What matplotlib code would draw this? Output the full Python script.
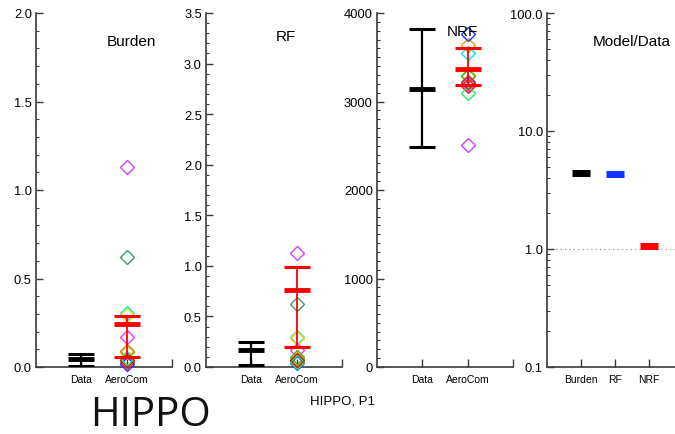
import matplotlib
matplotlib.use("Agg")
import matplotlib.pyplot as plt
from matplotlib.ticker import MultipleLocator, FixedLocator, LogLocator, NullFormatter

plt.rcParams['font.family'] = ['Liberation Sans', 'DejaVu Sans']

# ---------------- data ----------------
model_colors = ['#cc44ff', '#3c9a6a', '#00e5ff', '#ffd000', '#ff33ff', '#44aa22',
                '#ff9900', '#ff2222', '#2233ff', '#22ee66', '#aa3322']
burden_models = [1.13, 0.62, 0.307, 0.295, 0.17, 0.09, 0.085, 0.03, 0.015, 0.05, 0.04]
rf_models = [1.13, 0.62, 0.30, 0.29, 0.165, 0.10, 0.08, 0.06, 0.035, 0.05, 0.07]
nrf_models = [2510, 3200, 3550, 3300, 3200, 3290, 3640, 3180, 3760, 3100, 3215]

# data (mean, low, high) and AeroCom (mean, low, high)
burden_data = [0.045, 0.003, 0.075]
burden_aero = [0.242, 0.055, 0.288]
rf_data = [0.171, 0.02, 0.244]
rf_aero = [0.758, 0.198, 0.99]
nrf_data = [3140, 2490, 3815]
nrf_aero = [3365, 3185, 3600]

ratio_labels = ['Burden', 'RF', 'NRF']
ratio_values = [4.4, 4.3, 1.07]
ratio_colors = ['black', '#1133ff', '#ff0000']

x_labels = ['Data', 'AeroCom', '']

W, H = 675, 435
fig = plt.figure(figsize=(W / 100, H / 100), dpi=100)

def px_axes(left, right, top, bottom):
    return fig.add_axes([left / W, 1 - bottom / H, (right - left) / W, (bottom - top) / H])

spine_col = '#3a3a3a'

def style(ax):
    for s in ['top', 'right']:
        ax.spines[s].set_visible(False)
    for s in ['left', 'bottom']:
        ax.spines[s].set_color(spine_col)
        ax.spines[s].set_linewidth(1.2)
    ax.tick_params(axis='y', which='major', direction='in', length=5, width=1, color=spine_col,
                   labelsize=9.3, pad=3)
    ax.tick_params(axis='y', which='minor', direction='in', length=2.5, width=0.8, color=spine_col)
    ax.tick_params(axis='x', which='major', direction='in', length=6, width=1, color=spine_col,
                   labelsize=7.5, pad=5)
    ax.tick_params(axis='x', which='minor', length=0)

def draw_errbar(ax, x, vals, color, lw_v, lw_cap, lw_mean, hw=0.29):
    m, lo, hi = vals
    ax.plot([x, x], [lo, hi], color=color, lw=lw_v, zorder=4, solid_capstyle='butt')
    ax.plot([x - hw, x + hw], [lo, lo], color=color, lw=lw_cap, zorder=4, solid_capstyle='butt')
    ax.plot([x - hw, x + hw], [hi, hi], color=color, lw=lw_cap, zorder=4, solid_capstyle='butt')
    ax.plot([x - hw, x + hw], [m, m], color=color, lw=lw_mean, zorder=4, solid_capstyle='butt')

def value_panel(ax, models, dvals, avals, ymax, major, minor, title, tpos, fmt):
    style(ax)
    for v, c in zip(models, model_colors):
        ax.plot([2], [v], marker='D', ms=7, mfc='none', mec=c, mew=1.0, zorder=3, clip_on=False)
    draw_errbar(ax, 1, dvals, 'black', 1.6, 2.2, 3.5)
    draw_errbar(ax, 2, avals, '#ff0000', 1.3, 2.2, 3.5)
    ax.set_xlim(0, 3)
    ax.set_ylim(0, ymax)
    ax.xaxis.set_major_locator(FixedLocator([1, 2, 3]))
    ax.set_xticklabels(x_labels)
    ax.yaxis.set_major_locator(MultipleLocator(major))
    ax.yaxis.set_minor_locator(MultipleLocator(minor))
    ax.yaxis.set_major_formatter(plt.FuncFormatter(lambda v, p: fmt.format(v)))
    ax.text(tpos[0], tpos[1], title, transform=ax.transAxes, ha='center', va='center',
            fontsize=11, zorder=5)

ax1 = px_axes(36, 172, 14, 368)
value_panel(ax1, burden_models, burden_data, burden_aero, 2.0, 0.5, 0.1, 'Burden',
            (0.705, 0.921), '{:.1f}')
ax2 = px_axes(206, 342, 14, 368)
value_panel(ax2, rf_models, rf_data, rf_aero, 3.5, 0.5, 0.1, 'RF', (0.59, 0.934), '{:.1f}')
ax3 = px_axes(377, 513, 14, 368)
value_panel(ax3, nrf_models, nrf_data, nrf_aero, 4000, 1000, 100, 'NRF', (0.625, 0.949), '{:.0f}')

# ratio panel
ax4 = px_axes(547, 683, 14, 368)
style(ax4)
ax4.set_yscale('log')
ax4.set_ylim(0.1, 100)
ax4.set_xlim(0, 4)
ax4.axhline(1.0, color='#999999', lw=0.9, ls=(0, (1, 2.5)), zorder=1)
for i, (v, c) in enumerate(zip(ratio_values, ratio_colors)):
    ax4.plot([i + 1 - 0.27, i + 1 + 0.27], [v, v], color=c, lw=5, solid_capstyle='butt', zorder=3)
ax4.xaxis.set_major_locator(FixedLocator([1, 2, 3]))
ax4.set_xticklabels(ratio_labels)
ax4.yaxis.set_major_locator(FixedLocator([0.1, 1, 10, 100]))
ax4.yaxis.set_major_formatter(plt.FuncFormatter(lambda v, p: '{:.1f}'.format(v)))
ax4.yaxis.set_minor_locator(LogLocator(base=10, subs=range(2, 10)))
ax4.yaxis.set_minor_formatter(NullFormatter())
ax4.text(0.625, 0.921, 'Model/Data', transform=ax4.transAxes, ha='center', va='center', fontsize=11)

fig.text(343 / W, 1 - 402 / H, 'HIPPO, P1', ha='center', va='center', fontsize=9.5)
fig.text(151 / W, 1 - 416 / H, 'HIPPO', ha='center', va='center', fontsize=29,
         family=['Open Sans', 'DejaVu Sans'], color='#111111')

fig.savefig('out.png', dpi=100)
